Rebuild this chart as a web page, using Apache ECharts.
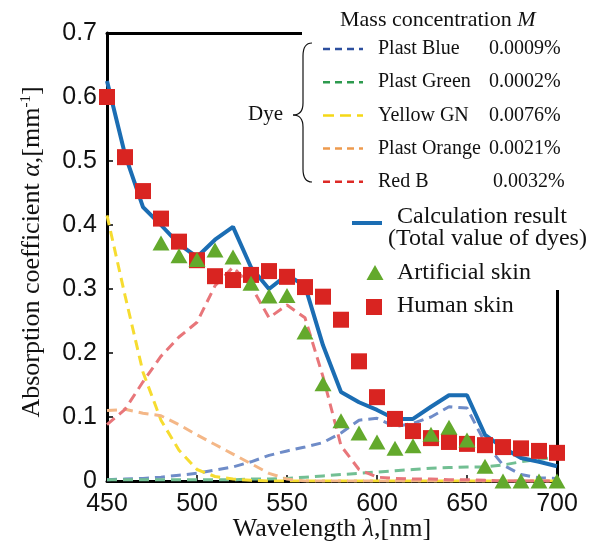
<!DOCTYPE html>
<html lang="en">
<head>
<meta charset="UTF-8">
<title>absorption coefficient</title>
<script src="https://cdn.jsdelivr.net/npm/echarts@6/dist/echarts.min.js"></script>
<style>
  html, body { margin: 0; padding: 0; background: #fff; }
  #chart { width: 598px; height: 544px; }
</style>
</head>
<body>
<div id="chart"></div>
<script>
// wavelength grid [nm]
var wavelengths = [450, 460, 470, 480, 490, 500, 510, 520, 530, 540, 550, 560, 570,
                   580, 590, 600, 610, 620, 630, 640, 650, 660, 670, 680, 690, 700];

// dye spectra (dashed)
var plastBlue   = [0.002, 0.003, 0.004, 0.006, 0.009, 0.012, 0.017, 0.022, 0.030, 0.040, 0.047, 0.053, 0.060,
                   0.075, 0.095, 0.098, 0.085, 0.090, 0.100, 0.116, 0.114, 0.060, 0.025, 0.010, 0.005, 0.004];
var plastGreen  = [0.002, 0.002, 0.002, 0.002, 0.002, 0.002, 0.002, 0.002, 0.003, 0.003, 0.004, 0.006, 0.008,
                   0.010, 0.012, 0.014, 0.016, 0.018, 0.020, 0.021, 0.022, 0.022, 0.025, 0.030, 0.034, 0.037];
var yellowGN    = [0.415, 0.290, 0.170, 0.095, 0.048, 0.018, 0.007, 0.003, 0.001, 0, 0, 0, 0,
                   0, 0, 0, 0, 0, 0, 0, 0, 0, 0, 0, 0, 0];
var plastOrange = [0.110, 0.112, 0.106, 0.102, 0.088, 0.072, 0.057, 0.042, 0.027, 0.012, 0.003, 0, 0,
                   0, 0, 0, 0, 0, 0, 0, 0, 0, 0, 0, 0, 0];
var redB        = [0.088, 0.112, 0.155, 0.195, 0.225, 0.248, 0.305, 0.334, 0.305, 0.255, 0.275, 0.255, 0.163,
                   0.055, 0.018, 0.006, 0.004, 0.003, 0.003, 0.002, 0.002, 0.001, 0, 0, 0, 0];

// total of dyes
var calcResult  = [0.625, 0.510, 0.428, 0.400, 0.370, 0.350, 0.377, 0.397, 0.334, 0.300, 0.322, 0.305, 0.212,
                   0.139, 0.123, 0.111, 0.097, 0.097, 0.116, 0.134, 0.134, 0.072, 0.052, 0.036, 0.030, 0.023];

// measurements
var artificialSkin = [null, null, null, 0.372, 0.352, 0.346, 0.361, 0.350, 0.309, 0.289, 0.290, 0.233, 0.152,
                      0.094, 0.075, 0.061, 0.051, 0.055, 0.073, 0.084, 0.064, 0.023, 0, 0, 0, 0];
var humanSkin      = [0.600, 0.506, 0.453, 0.410, 0.374, 0.345, 0.320, 0.314, 0.322, 0.328, 0.319, 0.303, 0.288,
                      0.252, 0.187, 0.131, 0.097, 0.078, 0.067, 0.061, 0.058, 0.056, 0.053, 0.051, 0.047, 0.044];

var dyeNames  = ['Plast Blue', 'Plast Green', 'Yellow GN', 'Plast Orange', 'Red B'];
var dyeConc   = ['0.0009%', '0.0002%', '0.0076%', '0.0021%', '0.0032%'];

var SERIF = 'Liberation Serif';
var SANS = 'Liberation Sans';

function pairs(vals) {
  var out = [];
  for (var i = 0; i < wavelengths.length; i++) {
    if (vals[i] !== null) out.push([wavelengths[i], vals[i]]);
  }
  return out;
}

function dashed(name, vals, color) {
  return {
    name: name, type: 'line', data: pairs(vals), symbol: 'none', z: 2,
    lineStyle: { color: color, width: 3, type: [10, 6] }
  };
}

function label(x, y, text, size) {
  return {
    type: 'text', z: 5, x: x, y: y,
    style: { text: text, fontFamily: SERIF, fontSize: size, fill: '#111',
      align: 'left', verticalAlign: 'middle', textAlign: 'left', textVerticalAlign: 'middle' }
  };
}

var chart = echarts.init(document.getElementById('chart'));

// legend (drawn by hand, layout is not a standard legend)
var legendColors = ['#2d4f9e', '#2d9a4e', '#f5d816', '#ee9a4e', '#dd2a26'];
var legendDash = [[7, 5], [7, 5], [11, 6], [7, 5], [7, 5]];
var g = [];
// white box hiding the frame behind the legend
g.push({ type: 'rect', z: 1, shape: { x: 302, y: 0, width: 296, height: 290 }, style: { fill: '#fff' } });
g.push({
  type: 'text', z: 5, x: 340, y: 20,
  style: {
    text: 'Mass concentration {i|M}', fontFamily: SERIF, fontSize: 22, fill: '#111',
    align: 'left', verticalAlign: 'middle', textAlign: 'left', textVerticalAlign: 'middle',
    rich: { i: { fontFamily: SERIF, fontSize: 22, fontStyle: 'italic', fill: '#111' } }
  }
});
for (var k = 0; k < dyeNames.length; k++) {
  var yy = 49 + k * 33.2;
  g.push({
    type: 'line', z: 5, shape: { x1: 323, y1: yy, x2: 363, y2: yy },
    style: { stroke: legendColors[k], lineWidth: 2.5, lineDash: legendDash[k] }
  });
  g.push(label(378, yy, dyeNames[k], 20));
  g.push(label(k === 4 ? 493 : 489, yy, dyeConc[k], 20));
}
// brace + "Dye"
var braceStyle = { stroke: '#111', lineWidth: 1.2, fill: null };
g.push({ type: 'bezierCurve', z: 5, shape: { x1: 312, y1: 43, cpx1: 303, cpy1: 43, x2: 303, y2: 56 }, style: braceStyle });
g.push({ type: 'line', z: 5, shape: { x1: 303, y1: 56, x2: 303, y2: 103 }, style: braceStyle });
g.push({ type: 'bezierCurve', z: 5, shape: { x1: 303, y1: 103, cpx1: 303, cpy1: 115, x2: 293, y2: 115 }, style: braceStyle });
g.push({ type: 'bezierCurve', z: 5, shape: { x1: 293, y1: 115, cpx1: 303, cpy1: 115, x2: 303, y2: 127 }, style: braceStyle });
g.push({ type: 'line', z: 5, shape: { x1: 303, y1: 127, x2: 303, y2: 169 }, style: braceStyle });
g.push({ type: 'bezierCurve', z: 5, shape: { x1: 303, y1: 169, cpx1: 303, cpy1: 182, x2: 312, y2: 182 }, style: braceStyle });
g.push(label(248, 114, 'Dye', 21));
// calculation result / measurements
g.push({ type: 'line', z: 5, shape: { x1: 352, y1: 223, x2: 382, y2: 223 }, style: { stroke: '#1b6db3', lineWidth: 4 } });
g.push(label(397, 217, 'Calculation result', 24));
g.push(label(388, 239, '(Total value of dyes)', 24));
g.push({ type: 'polygon', z: 5, shape: { points: [[375, 265], [383.5, 280], [366.5, 280]] }, style: { fill: '#63a92c' } });
g.push(label(397, 273, 'Artificial skin', 24));
g.push({ type: 'rect', z: 5, shape: { x: 366, y: 299, width: 16, height: 16 }, style: { fill: '#d92421' } });
g.push(label(397, 306, 'Human skin', 24));

var axisLineStyle = { color: '#000', width: 3 };

var option = {
  backgroundColor: '#fff',
  animation: false,
  grid: { left: 107, right: 41, top: 33, bottom: 63, containLabel: false, outerBoundsMode: 'none' },
  xAxis: [{
    type: 'value', min: 450, max: 700, interval: 50, position: 'bottom',
    name: 'Wavelength {i|λ},[nm]', nameLocation: 'middle', nameGap: 35, nameMoveOverlap: false,
    nameTextStyle: {
      fontFamily: SERIF, fontSize: 26, color: '#111',
      rich: { i: { fontFamily: SERIF, fontSize: 26, fontStyle: 'italic', color: '#111' } }
    },
    axisLine: { show: true, onZero: false, lineStyle: axisLineStyle },
    axisTick: { show: true, inside: true, length: 6, lineStyle: { color: '#000', width: 1.5 } },
    axisLabel: { fontFamily: SANS, fontSize: 25, color: '#111', margin: 11 },
    splitLine: { show: false }
  }, {
    type: 'value', min: 450, max: 700, position: 'top',
    axisLine: { show: true, onZero: false, lineStyle: axisLineStyle },
    axisTick: { show: false }, axisLabel: { show: false }, splitLine: { show: false }
  }],
  yAxis: [{
    type: 'value', min: 0, max: 0.7, interval: 0.1, position: 'left',
    name: 'Absorption coefficient {i|α},[mm{sup|-1}]', nameLocation: 'middle', nameGap: 62, nameMoveOverlap: false,
    nameTextStyle: {
      fontFamily: SERIF, fontSize: 26, color: '#111', padding: [0, 0, 0, 10],
      rich: {
        i: { fontFamily: SERIF, fontSize: 26, fontStyle: 'italic', color: '#111' },
        sup: { fontFamily: SERIF, fontSize: 15, color: '#111', verticalAlign: 'top' }
      }
    },
    axisLine: { show: true, onZero: false, lineStyle: axisLineStyle },
    axisTick: { show: true, inside: true, length: 6, lineStyle: { color: '#000', width: 1.5 } },
    axisLabel: { fontFamily: SANS, fontSize: 25, color: '#111', margin: 10 },
    splitLine: { show: false }
  }, {
    type: 'value', min: 0, max: 0.7, position: 'right',
    axisLine: { show: true, onZero: false, lineStyle: axisLineStyle },
    axisTick: { show: false }, axisLabel: { show: false }, splitLine: { show: false }
  }],
  graphic: g,
  series: [
    dashed('Plast Blue', plastBlue, '#6f8cc8'),
    dashed('Plast Green', plastGreen, '#72bf93'),
    dashed('Yellow GN', yellowGN, '#f6dc30'),
    dashed('Plast Orange', plastOrange, '#f4b787'),
    dashed('Red B', redB, '#e8767a'),
    {
      name: 'Calculation result', type: 'line', data: pairs(calcResult), symbol: 'none', z: 3,
      lineStyle: { color: '#1b6db3', width: 4 }
    },
    {
      name: 'Human skin', type: 'scatter', data: pairs(humanSkin), symbol: 'rect', symbolSize: 16, z: 4,
      itemStyle: { color: '#d92421', opacity: 1 }
    },
    {
      name: 'Artificial skin', type: 'scatter', data: pairs(artificialSkin), symbol: 'triangle', symbolSize: [17, 15], z: 5,
      itemStyle: { color: '#63a92c', opacity: 1 }
    }
  ]
};
chart.setOption(option);
</script>
</body>
</html>
